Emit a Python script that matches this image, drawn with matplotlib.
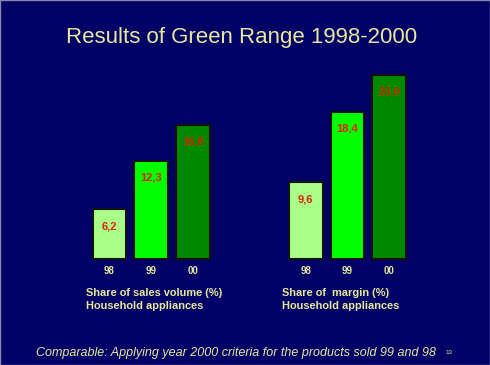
import matplotlib.pyplot as plt
from matplotlib.patches import Rectangle

years = ["98", "99", "00"]
sales_volume = [6.2, 12.3, 16.8]
margin = [9.6, 18.4, 23.0]
value_labels_sales = ["6,2", "12,3", "16,8"]
value_labels_margin = ["9,6", "18,4", "23,0"]
bar_colors = ["#aaff88", "#00ff00", "#008800"]

bg = "#000066"
txt = "#e8e89a"

fig = plt.figure(figsize=(4.9, 3.65), dpi=100, facecolor=bg)
ax = fig.add_axes([0, 0, 1, 1])
ax.set_facecolor(bg)
# one unit on x ~ 41.75 px, one unit on y = 8 px
ax.set_xlim(-2.623, 9.114)
ax.set_ylim(-13.25, 32.375)
ax.axis("off")

left_x = [0, 1, 2]
right_x = [4.7, 5.7, 6.7]

for xs, vals, labs in [(left_x, sales_volume, value_labels_sales),
                       (right_x, margin, value_labels_margin)]:
    ax.bar(xs, vals, width=0.81, color=bar_colors, edgecolor="#111111", linewidth=1.5)
    for x, v, lab in zip(xs, vals, labs):
        ax.text(x, v - 2.1, lab, ha="center", va="center", color="#e02000",
                fontsize=8, fontweight="bold", family="Liberation Sans")
    for x, yr in zip(xs, years):
        ax.text(x, -1.5, yr, ha="center", va="center", color=txt,
                fontsize=7, fontweight="bold", family="Liberation Sans")

ax.text(-0.57, -5.1, "Share of sales volume (%)\nHousehold appliances", ha="left", va="center",
        color=txt, fontsize=7.9, fontweight="bold", family="Liberation Sans", linespacing=1.35)
ax.text(4.13, -5.1, "Share of  margin (%)\nHousehold appliances", ha="left", va="center",
        color=txt, fontsize=7.9, fontweight="bold", family="Liberation Sans", linespacing=1.35)

fig.text(0.494, 0.898, "Results of Green Range 1998-2000", ha="center", va="center",
         color=txt, fontsize=16, family="Liberation Sans")
fig.text(0.482, 0.033, "Comparable: Applying year 2000 criteria for the products sold 99 and 98",
         ha="center", va="center", color=txt, fontsize=9, style="italic", family="Liberation Sans")
fig.text(0.916, 0.035, "13", ha="center", va="center", color=txt, fontsize=4.5, family="Liberation Sans")

fig.patches.append(Rectangle((0, 0), 1, 1, transform=fig.transFigure, fill=False,
                             edgecolor="#8888aa", linewidth=1))

fig.savefig("out.png", dpi=100, facecolor=bg)
